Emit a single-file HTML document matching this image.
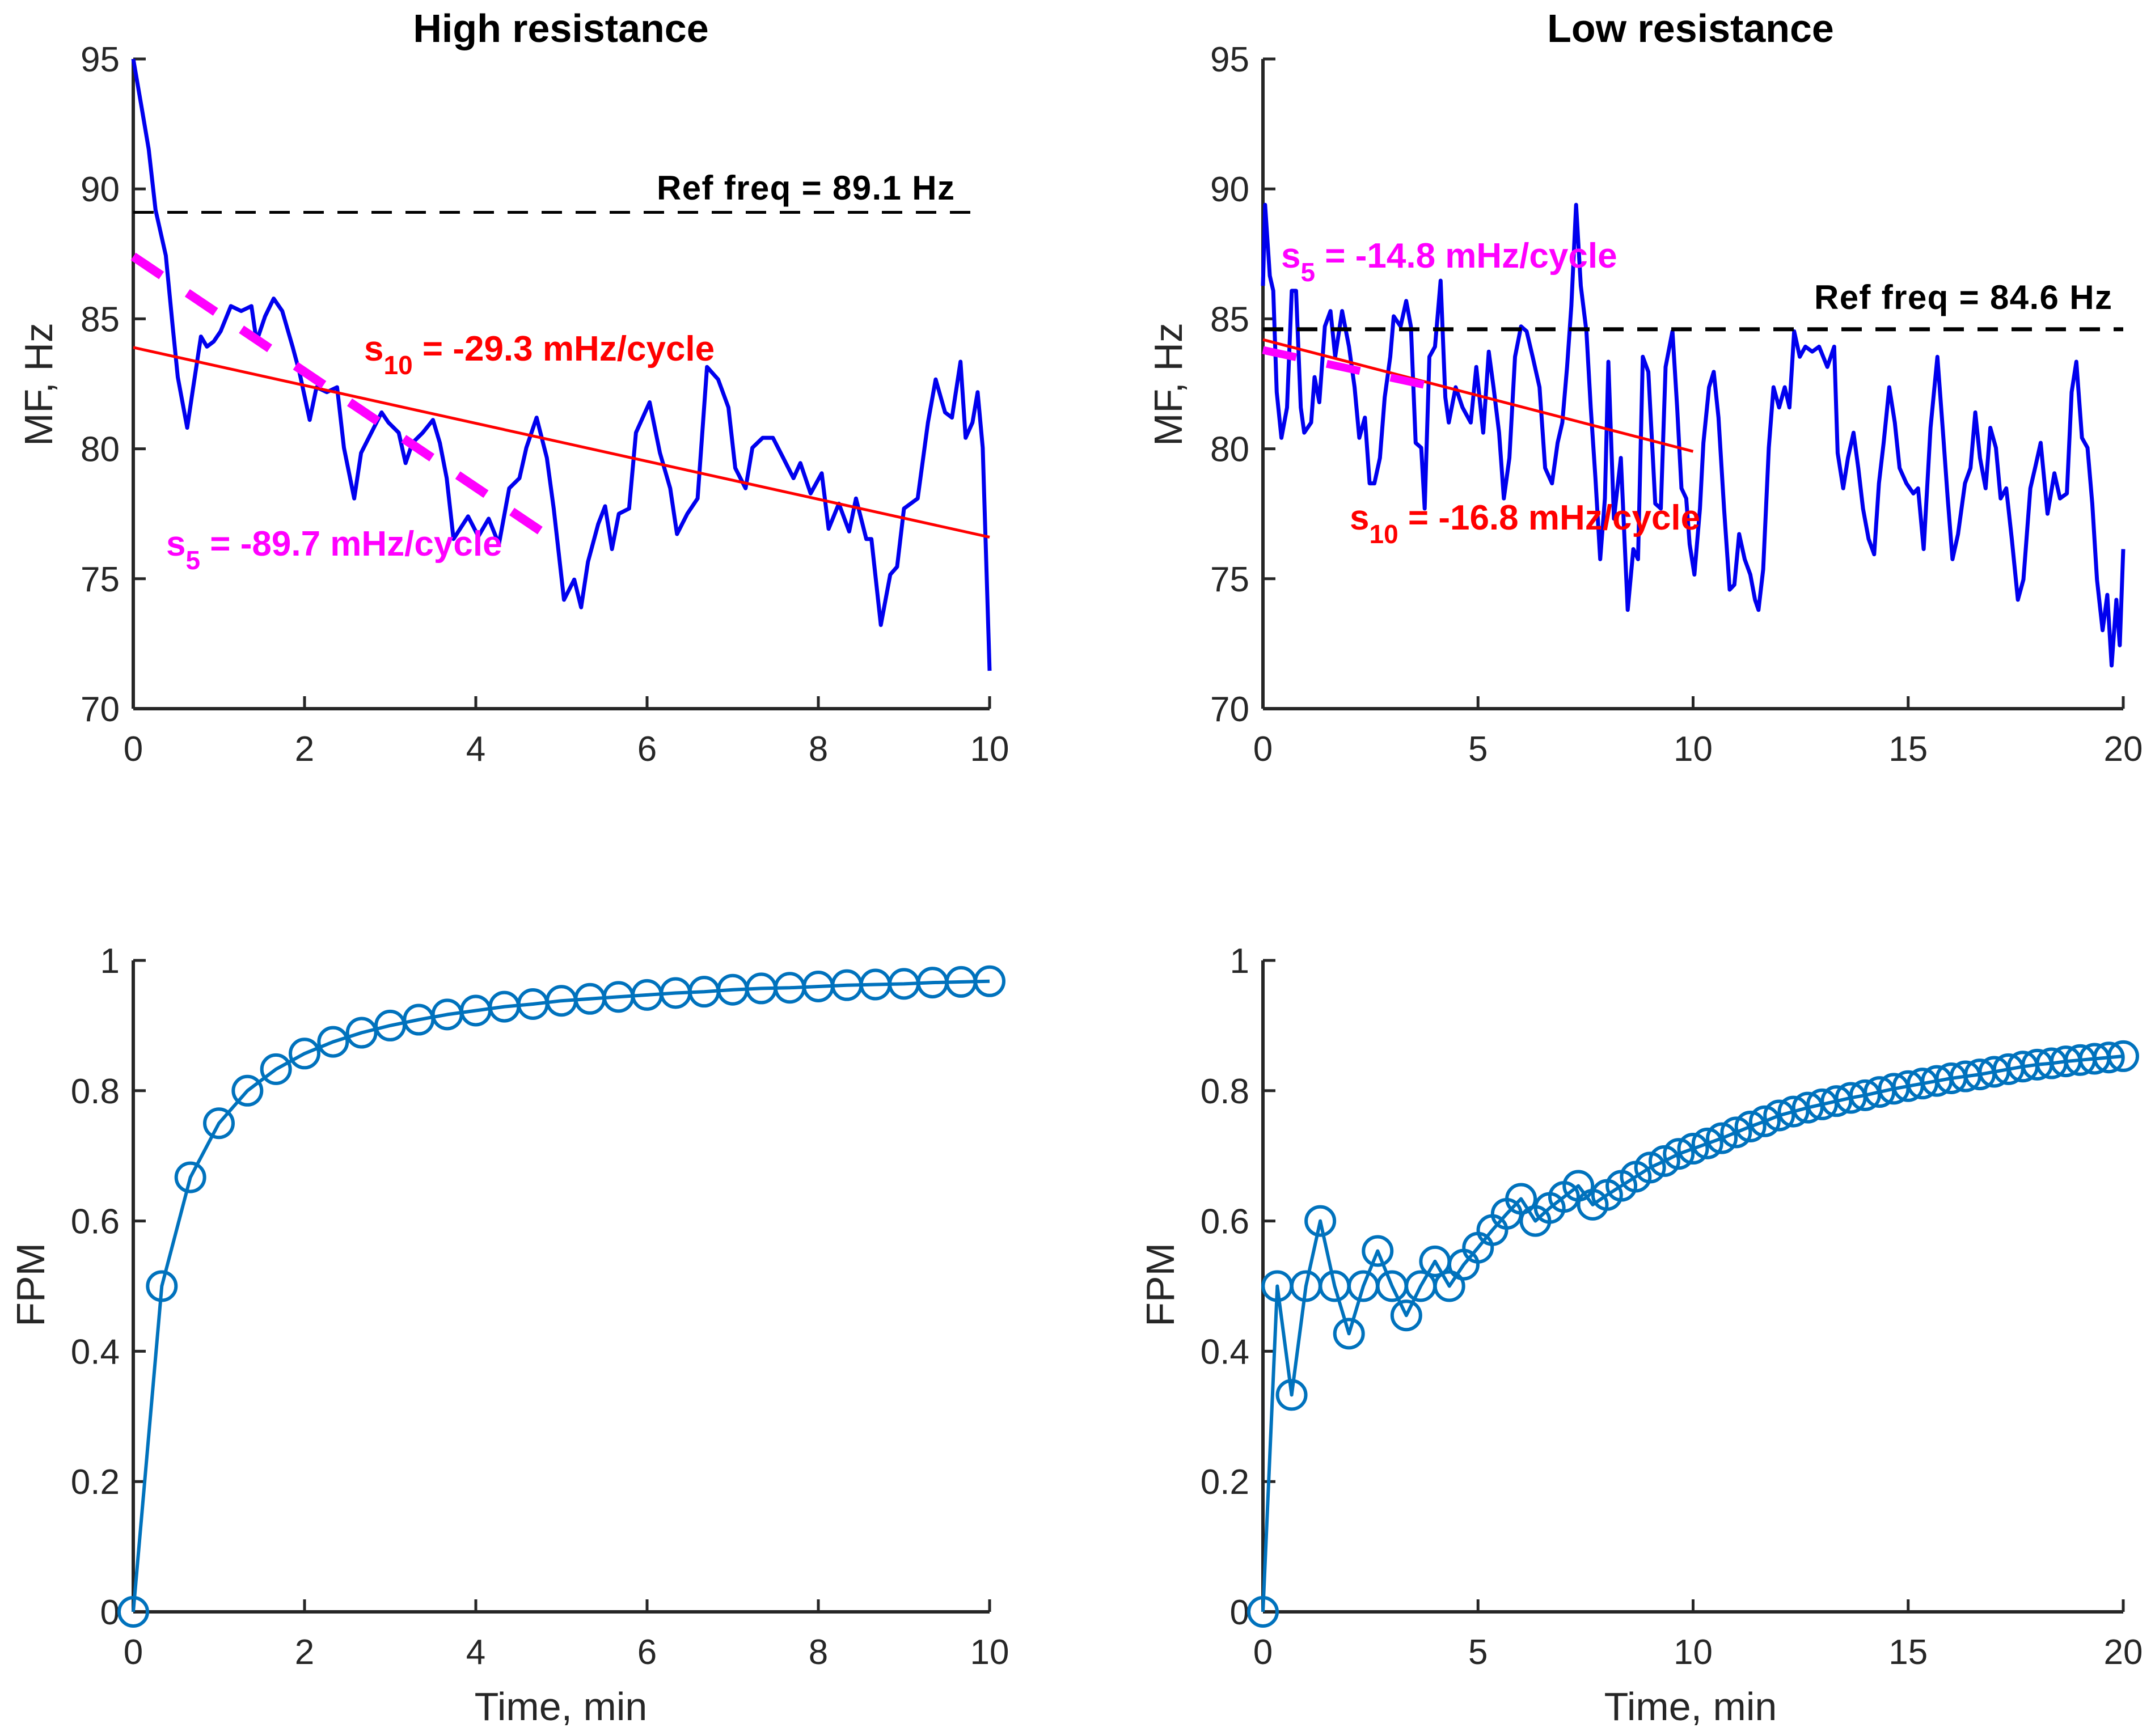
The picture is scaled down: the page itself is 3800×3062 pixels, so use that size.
<!DOCTYPE html>
<html><head><meta charset="utf-8"><style>
html,body{margin:0;padding:0;background:#fff;}
svg{display:block;font-family:"Liberation Sans",sans-serif;}
</style></head><body>
<svg id="fig" width="3800" height="3062" viewBox="0 0 3800 3062" xmlns="http://www.w3.org/2000/svg"></svg>
<script>
// ---------- Data ----------
const hiT = [0,0.10,0.18,0.26,0.38,0.46,0.52,0.63,0.70,0.79,0.86,0.94,1.02,1.14,1.26,1.38,1.44,1.54,1.64,1.74,1.86,1.94,2.06,2.14,2.26,2.38,2.46,2.58,2.66,2.78,2.90,2.98,3.10,3.18,3.26,3.38,3.50,3.58,3.66,3.74,3.91,4.03,4.15,4.27,4.39,4.51,4.59,4.71,4.83,4.91,5.03,5.15,5.23,5.31,5.43,5.51,5.59,5.67,5.79,5.87,6.03,6.15,6.27,6.35,6.47,6.59,6.70,6.83,6.95,7.03,7.15,7.23,7.35,7.47,7.59,7.71,7.79,7.91,8.04,8.12,8.24,8.36,8.44,8.56,8.62,8.73,8.84,8.92,9.00,9.16,9.28,9.37,9.48,9.56,9.66,9.72,9.80,9.86,9.92,10.0];
const hiMF = [95,93.09,91.53,89.19,87.44,84.71,82.76,80.81,82.37,84.32,83.93,84.13,84.52,85.49,85.30,85.49,84.13,85.10,85.78,85.30,83.93,82.96,81.11,82.37,82.18,82.37,80.04,78.09,79.84,80.62,81.40,81.01,80.62,79.45,80.23,80.62,81.11,80.23,78.87,76.53,77.40,76.63,77.31,76.33,78.48,78.87,80.04,81.20,79.65,77.70,74.19,74.97,73.90,75.65,77.11,77.79,76.14,77.50,77.70,80.62,81.79,79.84,78.48,76.72,77.50,78.09,83.15,82.67,81.59,79.26,78.48,80.04,80.42,80.42,79.65,78.87,79.45,78.28,79.06,76.92,77.89,76.82,78.09,76.53,76.53,73.22,75.16,75.46,77.70,78.09,81.01,82.67,81.40,81.20,83.35,80.42,81.01,82.18,80.04,71.46];
const loT = [0,0.05,0.16,0.24,0.32,0.43,0.56,0.67,0.77,0.88,0.96,1.12,1.20,1.31,1.44,1.57,1.68,1.84,2.00,2.13,2.24,2.37,2.48,2.59,2.72,2.83,2.96,3.04,3.20,3.33,3.44,3.55,3.68,3.76,3.87,4.00,4.13,4.24,4.32,4.48,4.64,4.83,4.96,5.12,5.25,5.36,5.49,5.60,5.73,5.86,6.00,6.13,6.27,6.43,6.56,6.72,6.85,6.96,7.07,7.17,7.28,7.39,7.52,7.62,7.73,7.84,7.95,8.03,8.16,8.32,8.48,8.61,8.72,8.83,8.96,9.12,9.25,9.36,9.52,9.63,9.73,9.84,9.92,10.03,10.16,10.24,10.37,10.48,10.59,10.72,10.85,10.96,11.07,11.20,11.33,11.44,11.52,11.63,11.76,11.87,12.00,12.13,12.24,12.35,12.48,12.61,12.77,12.93,13.12,13.28,13.36,13.49,13.60,13.73,13.84,13.95,14.08,14.21,14.32,14.43,14.56,14.69,14.80,14.96,15.12,15.23,15.36,15.52,15.68,15.81,15.92,16.03,16.16,16.32,16.45,16.56,16.67,16.80,16.91,17.04,17.15,17.28,17.41,17.55,17.68,17.84,17.95,18.08,18.24,18.40,18.53,18.69,18.80,18.91,19.04,19.17,19.28,19.39,19.52,19.63,19.73,19.84,19.92,20.0];
const loMF = [86.27,89.39,86.66,86.08,82.18,80.42,81.59,86.08,86.08,81.59,80.62,81.01,82.76,81.79,84.71,85.30,83.54,85.30,83.93,82.37,80.42,81.20,78.67,78.67,79.65,81.98,83.54,85.10,84.71,85.69,84.71,80.23,80.04,77.70,83.54,83.93,86.47,81.98,81.01,82.37,81.59,81.01,83.15,80.62,83.74,82.37,80.62,78.09,79.65,83.54,84.71,84.52,83.54,82.37,79.26,78.67,80.23,81.01,83.15,85.49,89.39,86.27,84.52,81.59,78.87,75.75,78.09,83.35,77.31,79.65,73.80,76.14,75.75,83.54,82.96,77.89,77.70,83.15,84.52,81.59,78.48,78.09,76.33,75.16,77.70,80.23,82.37,82.96,81.20,77.70,74.58,74.77,76.72,75.75,75.16,74.19,73.80,75.36,80.04,82.37,81.59,82.37,81.59,84.52,83.54,83.93,83.74,83.93,83.15,83.93,79.84,78.48,79.65,80.62,79.26,77.70,76.53,75.94,78.67,80.23,82.37,81.01,79.26,78.67,78.28,78.48,76.14,80.81,83.54,80.62,78.09,75.75,76.72,78.67,79.26,81.40,79.65,78.48,80.81,80.04,78.09,78.48,76.53,74.19,74.97,78.48,79.26,80.23,77.50,79.06,78.09,78.28,82.18,83.35,80.42,80.04,77.89,74.97,73.02,74.38,71.66,74.19,72.44,76.14];
const hiFPM = [0,0.5,0.667,0.75,0.8,0.833,0.857,0.875,0.889,0.9,0.909,0.917,0.923,0.929,0.933,0.938,0.941,0.944,0.947,0.95,0.952,0.955,0.957,0.958,0.96,0.962,0.963,0.964,0.966,0.967,0.968];
const loFPM = [0,0.5,0.333,0.5,0.6,0.5,0.427,0.5,0.554,0.5,0.455,0.5,0.538,0.5,0.533,0.559,0.586,0.611,0.634,0.6,0.62,0.637,0.654,0.625,0.64,0.654,0.668,0.682,0.692,0.703,0.711,0.719,0.727,0.736,0.745,0.753,0.762,0.768,0.774,0.779,0.784,0.789,0.793,0.798,0.803,0.807,0.811,0.815,0.819,0.822,0.825,0.829,0.833,0.837,0.840,0.842,0.845,0.847,0.849,0.851,0.853];
const fpmStepMin = 1/3;
const hiRef = 89.1, loRef = 84.6;
const hiFit10 = [83.9, 76.6], hiFit5 = [87.4, 76.3];
const loFit10 = [84.2, 79.9], loFit5 = [83.8, 82.3];
const hiXTicks = [0,2,4,6,8,10], loXTicks = [0,5,10,15,20];
const mfTicks = [70,75,80,85,90,95];
const fpmTicks = [0,0.2,0.4,0.6,0.8,1];
const fpmTickLabels = ["0","0.2","0.4","0.6","0.8","1"];

// ---------- Drawing ----------
const NS = "http://www.w3.org/2000/svg";
const svg = document.getElementById('fig');
function el(tag, attrs, parent, text){
  const e = document.createElementNS(NS, tag);
  for (const k in attrs) e.setAttribute(k, attrs[k]);
  if (text !== undefined) e.textContent = text;
  (parent||svg).appendChild(e);
  return e;
}
function makeAxes(x0,x1,y0,y1,xmin,xmax,ymin,ymax){
  return {sx:v=>x0+(v-xmin)/(xmax-xmin)*(x1-x0), sy:v=>y0-(v-ymin)/(ymax-ymin)*(y0-y1), x0,x1,y0,y1};
}
function drawAxes(a, xt, yt, ytl, name){
  const g = el('g', {});
  
  
  el('line',{x1:a.x0,y1:a.y0,x2:a.x1,y2:a.y0,stroke:'#262626','stroke-width':6},g);
  el('line',{x1:a.x0,y1:a.y0,x2:a.x0,y2:a.y1,stroke:'#262626','stroke-width':6},g);
  xt.forEach(v=>{
    const x=a.sx(v);
    el('line',{x1:x,y1:a.y0,x2:x,y2:a.y0-22,stroke:'#262626','stroke-width':5},g);
    const t=el('text',{x:x,y:a.y0+92,'text-anchor':'middle','font-size':62,fill:'#262626'},g,String(v));
    
    
  });
  yt.forEach((v,i)=>{
    const y=a.sy(v);
    el('line',{x1:a.x0,y1:y,x2:a.x0+22,y2:y,stroke:'#262626','stroke-width':5},g);
    const t=el('text',{x:a.x0-24,y:y+22,'text-anchor':'end','font-size':62,fill:'#262626'},g,ytl?ytl[i]:String(v));
    
    
  });
}
function pathFrom(a, xs, ys){
  return xs.map((x,i)=>(i?'L':'M')+a.sx(x).toFixed(1)+' '+a.sy(ys[i]).toFixed(1)).join(' ');
}
function label(x,y,txt,opts,name){
  const t=el('text',Object.assign({x:x,y:y,fill:'#000','font-size':60},opts),svg,txt);
  
  
  return t;
}
function slopeLabel(x,y,sub,rest,color,name){
  const t=el('text',{x:x,y:y,fill:color,'font-size':62,'font-weight':'bold'});
  
  
  el('tspan',{},t,'s');
  el('tspan',{dy:24,'font-size':46},t,sub);
  el('tspan',{dy:-24},t,rest);
}

// Top-left
const A1 = makeAxes(235,1745,1250,104,0,10,70,95);
drawAxes(A1,hiXTicks,mfTicks,null,'high-mf');
let l = el('line',{x1:A1.sx(0),y1:A1.sy(hiRef),x2:A1.sx(9.9),y2:A1.sy(hiRef),stroke:'#000','stroke-width':5,'stroke-dasharray':'36,24'});
 
let p = el('path',{d:pathFrom(A1,hiT,hiMF),fill:'none',stroke:'#0000ee','stroke-width':7,'stroke-linejoin':'round'});
 
l = el('line',{x1:A1.sx(0),y1:A1.sy(hiFit10[0]),x2:A1.sx(10),y2:A1.sy(hiFit10[1]),stroke:'#ff0000','stroke-width':5});
 
l = el('line',{x1:A1.sx(0),y1:A1.sy(hiFit5[0]),x2:A1.sx(5),y2:A1.sy(hiFit5[1]),stroke:'#ff00ff','stroke-width':16,'stroke-dasharray':'60,55'});
 
label(989,74,'High resistance',{'text-anchor':'middle','font-weight':'bold','font-size':70},'high-title');
label(1158,352,'Ref freq = 89.1 Hz',{'font-weight':'bold','font-size':60,textLength:525},'high-ref-label');
slopeLabel(642,636,'10',' = -29.3 mHz/cycle','#ff0000','high-s10-label');
slopeLabel(293,980,'5',' = -89.7 mHz/cycle','#ff00ff','high-s5-label');
label(0,0,'MF, Hz',{'text-anchor':'middle','font-size':70,fill:'#262626',transform:'translate(92,678) rotate(-90)'},'high-y-axis-title');

// Top-right
const A2 = makeAxes(2227,3744,1250,104,0,20,70,95);
drawAxes(A2,loXTicks,mfTicks,null,'low-mf');
p = el('path',{d:pathFrom(A2,loT,loMF),fill:'none',stroke:'#0000ee','stroke-width':7,'stroke-linejoin':'round'});
 
l = el('line',{x1:A2.sx(0),y1:A2.sy(loRef),x2:A2.sx(20),y2:A2.sy(loRef),stroke:'#000','stroke-width':7,'stroke-dasharray':'36,24'});
 
l = el('line',{x1:A2.sx(0),y1:A2.sy(loFit10[0]),x2:A2.sx(10),y2:A2.sy(loFit10[1]),stroke:'#ff0000','stroke-width':5});
 
l = el('line',{x1:A2.sx(0),y1:A2.sy(loFit5[0]),x2:A2.sx(4.2),y2:A2.sy(loFit5[1]),stroke:'#ff00ff','stroke-width':14,'stroke-dasharray':'60,55'});
 
label(2981,74,'Low resistance',{'text-anchor':'middle','font-weight':'bold','font-size':70},'low-title');
label(3199,545,'Ref freq = 84.6 Hz',{'font-weight':'bold','font-size':60,textLength:525},'low-ref-label');
slopeLabel(2259,472,'5',' = -14.8 mHz/cycle','#ff00ff','low-s5-label');
slopeLabel(2380,934,'10',' = -16.8 mHz/cycle','#ff0000','low-s10-label');
label(0,0,'MF, Hz',{'text-anchor':'middle','font-size':70,fill:'#262626',transform:'translate(2084,678) rotate(-90)'},'low-y-axis-title');

// Bottom panels
function fpmPanel(a, vals, name){
  const xs = vals.map((v,i)=>i*fpmStepMin);
  const pp = el('path',{d:pathFrom(a,xs,vals),fill:'none',stroke:'#0072bd','stroke-width':6,'stroke-linejoin':'round'});
   
  vals.forEach((v,i)=>{
    const c=el('circle',{cx:a.sx(xs[i]),cy:a.sy(v),r:25,fill:'none',stroke:'#0072bd','stroke-width':6});
    
    
  });
}
const A3 = makeAxes(235,1745,2843,1694,0,10,0,1);
drawAxes(A3,hiXTicks,fpmTicks,fpmTickLabels,'high-fpm');
fpmPanel(A3,hiFPM,'high-fpm');
const A4 = makeAxes(2227,3744,2843,1694,0,20,0,1);
drawAxes(A4,loXTicks,fpmTicks,fpmTickLabels,'low-fpm');
fpmPanel(A4,loFPM,'low-fpm');
label(0,0,'FPM',{'text-anchor':'middle','font-size':70,fill:'#262626',transform:'translate(78,2266) rotate(-90)'},'high-fpm-y-axis-title');
label(0,0,'FPM',{'text-anchor':'middle','font-size':70,fill:'#262626',transform:'translate(2070,2266) rotate(-90)'},'low-fpm-y-axis-title');
label(989,3034,'Time, min',{'text-anchor':'middle','font-size':70,fill:'#262626'},'high-x-axis-title');
label(2981,3034,'Time, min',{'text-anchor':'middle','font-size':70,fill:'#262626'},'low-x-axis-title');
</script>
</body></html>
